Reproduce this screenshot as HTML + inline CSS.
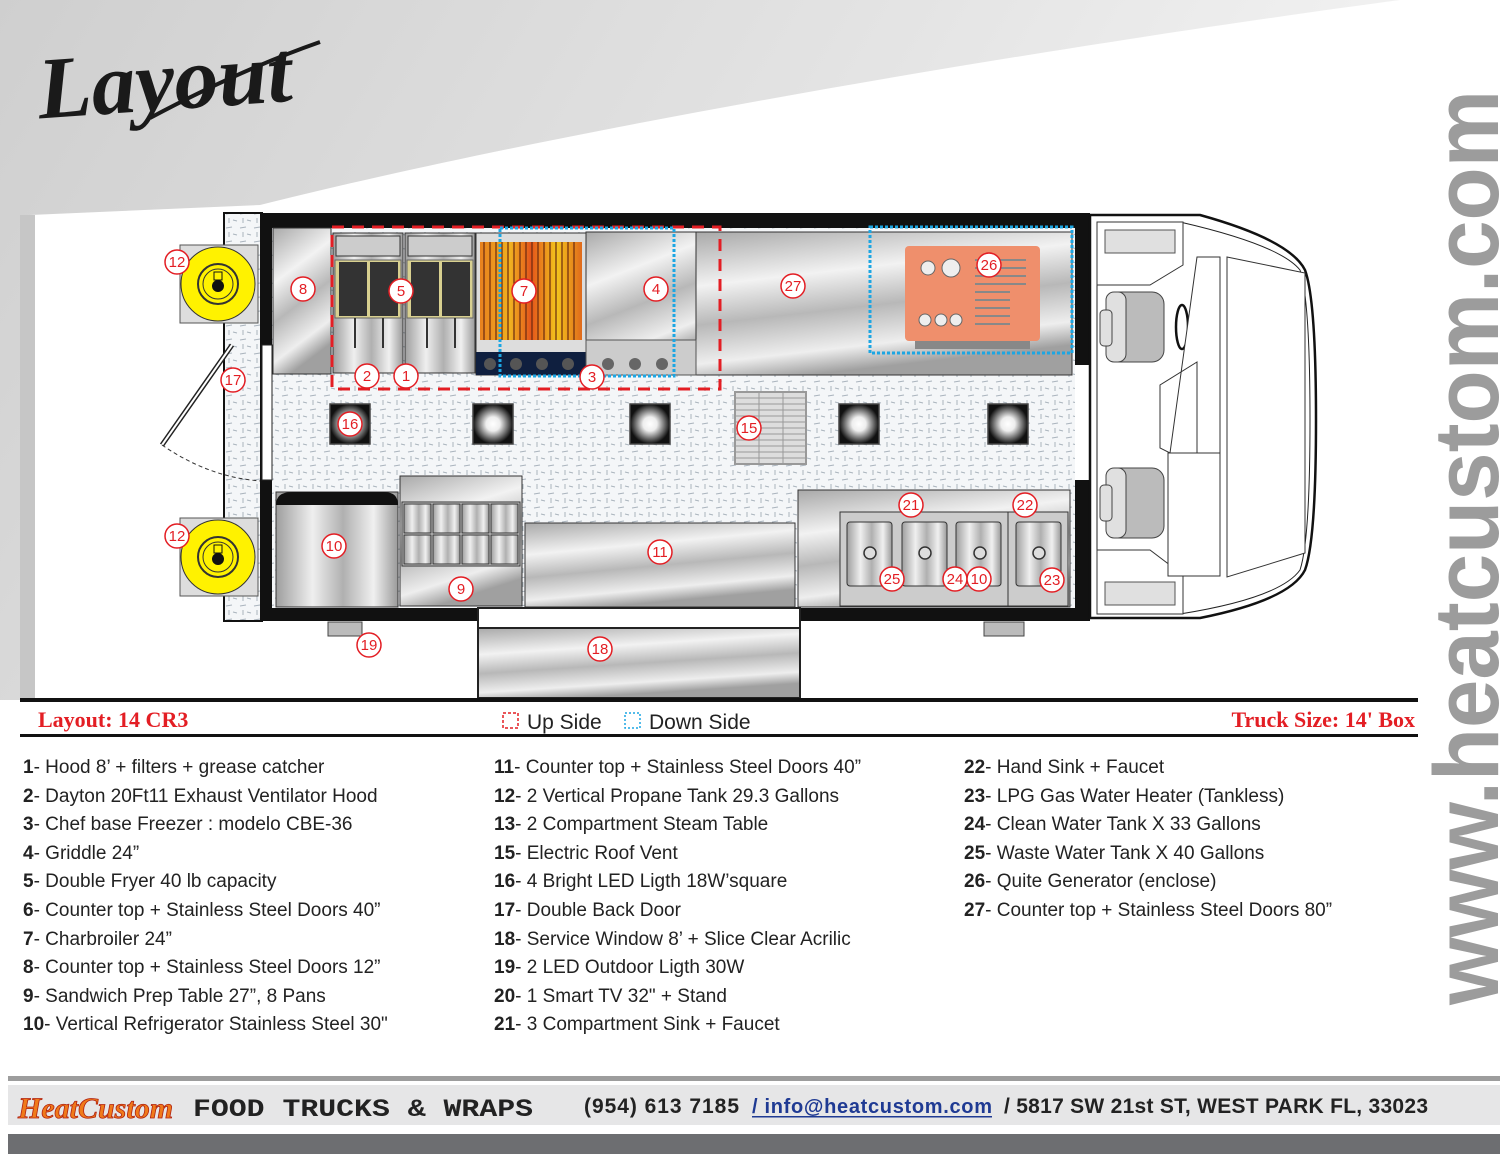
<!DOCTYPE html>
<html><head><meta charset="utf-8"><style>
html,body{margin:0;padding:0;background:#fff}
body{width:1500px;height:1154px;overflow:hidden;position:relative;font-family:"Liberation Sans",sans-serif}
.col{position:absolute;top:754px;font-size:19px;line-height:28.6px;color:#222}
.col b{font-weight:bold}
</style></head><body>
<svg width="1500" height="1154" viewBox="0 0 1500 1154" xmlns="http://www.w3.org/2000/svg" style="position:absolute;left:0;top:0">
<defs>
<linearGradient id="bg" x1="0" y1="0" x2="1" y2="0.3"><stop offset="0" stop-color="#cfcfcf"/><stop offset="0.6" stop-color="#e4e4e4"/><stop offset="1" stop-color="#f4f4f4"/></linearGradient>
<linearGradient id="st" x1="0" y1="0" x2="0.3" y2="1"><stop offset="0" stop-color="#a9a9a9"/><stop offset="0.35" stop-color="#f2f2f2"/><stop offset="0.6" stop-color="#b8b8b8"/><stop offset="0.85" stop-color="#eeeeee"/><stop offset="1" stop-color="#a0a0a0"/></linearGradient>
<linearGradient id="stv" x1="0" y1="0" x2="1" y2="0"><stop offset="0" stop-color="#9e9e9e"/><stop offset="0.3" stop-color="#efefef"/><stop offset="0.55" stop-color="#b0b0b0"/><stop offset="0.8" stop-color="#f0f0f0"/><stop offset="1" stop-color="#9a9a9a"/></linearGradient>
<linearGradient id="grill" x1="0" y1="0" x2="1" y2="0"><stop offset="0" stop-color="#e8811e"/><stop offset="0.3" stop-color="#f0b020"/><stop offset="0.5" stop-color="#e4541b"/><stop offset="0.75" stop-color="#f3c51c"/><stop offset="1" stop-color="#e06a1c"/></linearGradient>
<radialGradient id="led"><stop offset="0" stop-color="#fff"/><stop offset="0.35" stop-color="#eee"/><stop offset="1" stop-color="#111"/></radialGradient>
<pattern id="plate" width="14" height="14" patternUnits="userSpaceOnUse"><rect width="14" height="14" fill="#f4f6f8"/><path d="M2 4 L8 3 M9 10 L13 11 M5 8 L5 13" stroke="#aab4bd" stroke-width="1"/></pattern>
</defs>
<path d="M0 0 H1400 C1100 40 600 120 260 205 L 30 215 V700 H0 Z" fill="url(#bg)"/>
<path d="M20 215 L 35 215 V700 H20 Z" fill="#c6c6c6"/>
<text x="38" y="110" font-family="Liberation Serif,serif" font-style="italic" font-weight="bold" font-size="88" fill="#1a1a1a" transform="rotate(-4 160 90)">Layout</text>
<path d="M150 118 Q240 70 320 42" stroke="#1a1a1a" stroke-width="4" fill="none"/>
<text transform="translate(1498,1005) rotate(-90)" font-family="Liberation Sans,sans-serif" font-weight="bold" font-size="92" fill="#9c9c9c" textLength="915" lengthAdjust="spacingAndGlyphs">www.heatcustom.com</text>

<rect x="224" y="213" width="38" height="408" fill="url(#plate)" stroke="#111" stroke-width="2"/>
<g>
<rect x="180" y="245" width="78" height="78" fill="#ddd" stroke="#555"/>
<circle cx="218" cy="284" r="37" fill="#fff200" stroke="#333"/><circle cx="218" cy="284" r="20" fill="none" stroke="#333" stroke-width="2"/><circle cx="218" cy="284" r="15" fill="none" stroke="#333"/><circle cx="218" cy="286" r="6" fill="#111"/><rect x="214" y="272" width="8" height="8" fill="none" stroke="#111"/>
<rect x="180" y="518" width="78" height="78" fill="#ddd" stroke="#555"/>
<circle cx="218" cy="557" r="37" fill="#fff200" stroke="#333"/><circle cx="218" cy="557" r="20" fill="none" stroke="#333" stroke-width="2"/><circle cx="218" cy="557" r="15" fill="none" stroke="#333"/><circle cx="218" cy="559" r="6" fill="#111"/><rect x="214" y="545" width="8" height="8" fill="none" stroke="#111"/>
</g>
<line x1="232" y1="345" x2="162" y2="445" stroke="#222" stroke-width="5"/><line x1="232" y1="345" x2="162" y2="445" stroke="#fff" stroke-width="2"/>
<path d="M162 445 Q210 478 262 481" stroke="#333" stroke-dasharray="4 3" fill="none"/>

<rect x="260" y="213" width="830" height="408" fill="#111"/>
<rect x="272" y="228" width="803" height="380" fill="url(#plate)"/>
<rect x="262" y="345" width="10" height="135" fill="#fff" stroke="#222"/>
<rect x="273" y="228" width="58" height="146" fill="url(#st)" stroke="#333"/>
<rect x="696" y="232" width="376" height="143" fill="url(#st)" stroke="#333"/>
<g>
<rect x="333" y="233" width="70" height="140" fill="url(#stv)" stroke="#333"/><rect x="336" y="236" width="64" height="20" fill="#ccc" stroke="#333"/>
<rect x="335" y="260" width="66" height="58" fill="#d8d090" stroke="#666"/><rect x="339" y="262" width="28" height="54" fill="#333"/><rect x="370" y="262" width="28" height="54" fill="#333"/>
<rect x="405" y="233" width="70" height="140" fill="url(#stv)" stroke="#333"/><rect x="408" y="236" width="64" height="20" fill="#ccc" stroke="#333"/>
<rect x="407" y="260" width="66" height="58" fill="#d8d090" stroke="#666"/><rect x="411" y="262" width="28" height="54" fill="#333"/><rect x="442" y="262" width="28" height="54" fill="#333"/>
<path d="M355 318 V348 M383 318 V348 M427 318 V348 M455 318 V348" stroke="#333" stroke-width="2"/>
</g>
<rect x="476" y="233" width="110" height="142" fill="#ddd" stroke="#333"/>
<rect x="480" y="242" width="102" height="98" fill="url(#grill)"/>
<path d="M484 242V340M490 242V340M496 242V340M502 242V340M508 242V340M514 242V340M520 242V340M526 242V340M532 242V340M538 242V340M544 242V340M550 242V340M556 242V340M562 242V340M568 242V340M574 242V340" stroke="#6a2a10" stroke-width="1.2"/>
<rect x="476" y="352" width="110" height="23" fill="#0f1f3f"/>
<g fill="#555"><circle cx="490" cy="364" r="6"/><circle cx="516" cy="364" r="6"/><circle cx="542" cy="364" r="6"/><circle cx="568" cy="364" r="6"/></g>
<rect x="586" y="232" width="110" height="143" fill="url(#st)" stroke="#333"/>
<rect x="586" y="340" width="110" height="35" fill="#ccc" stroke="#555"/>
<g fill="#666"><circle cx="608" cy="364" r="6"/><circle cx="635" cy="364" r="6"/><circle cx="662" cy="364" r="6"/></g>
<rect x="905" y="246" width="135" height="95" rx="4" fill="#ef8f6c"/>
<rect x="915" y="341" width="115" height="8" fill="#888"/>
<g fill="#eee" stroke="#666"><circle cx="928" cy="268" r="7"/><circle cx="951" cy="268" r="9"/><circle cx="925" cy="320" r="6"/><circle cx="941" cy="320" r="6"/><circle cx="956" cy="320" r="6"/></g>
<path d="M975 260H1026M975 268H1026M975 276H1026M975 284H1026M975 292H1010M975 300H1010M975 308H1010M975 316H1010M975 324H1010" stroke="#888" stroke-width="2"/>
<rect x="332" y="227" width="388" height="162" fill="none" stroke="#e31e24" stroke-width="3" stroke-dasharray="12 8"/>
<rect x="500" y="228" width="174" height="148" fill="none" stroke="#1ca6e3" stroke-width="3" stroke-dasharray="3 2"/>
<rect x="870" y="227" width="202" height="126" fill="none" stroke="#1ca6e3" stroke-width="3" stroke-dasharray="3 2"/>
<g stroke="#444" stroke-width="1.5">
<rect x="330" y="404" width="40" height="40" fill="url(#led)"/><rect x="473" y="404" width="40" height="40" fill="url(#led)"/><rect x="630" y="404" width="40" height="40" fill="url(#led)"/><rect x="839" y="404" width="40" height="40" fill="url(#led)"/><rect x="988" y="404" width="40" height="40" fill="url(#led)"/>
</g>
<rect x="735" y="392" width="71" height="72" fill="#ddd" stroke="#999" stroke-width="2"/>
<path d="M735 398H806M735 404H806M735 410H806M735 416H806M735 422H806M735 428H806M735 434H806M735 440H806M735 446H806M735 452H806M735 458H806M759 392V464M783 392V464" stroke="#999"/>
<rect x="276" y="492" width="122" height="115" fill="url(#stv)" stroke="#333"/>
<path d="M276 505 Q276 492 292 492 H384 Q398 492 398 505 Z" fill="#111"/>
<rect x="400" y="476" width="122" height="130" fill="url(#st)" stroke="#333"/>
<rect x="402" y="502" width="118" height="64" fill="#ccc" stroke="#333"/>
<g fill="url(#stv)" stroke="#333"><rect x="404" y="504" width="27" height="29"/><rect x="433" y="504" width="27" height="29"/><rect x="462" y="504" width="27" height="29"/><rect x="491" y="504" width="27" height="29"/><rect x="404" y="535" width="27" height="29"/><rect x="433" y="535" width="27" height="29"/><rect x="462" y="535" width="27" height="29"/><rect x="491" y="535" width="27" height="29"/></g>
<rect x="525" y="523" width="270" height="84" fill="url(#st)" stroke="#333"/>
<rect x="798" y="490" width="272" height="117" fill="url(#st)" stroke="#333"/>
<rect x="840" y="512" width="168" height="94" fill="#ccc" stroke="#333"/>
<rect x="1008" y="512" width="60" height="94" fill="#ccc" stroke="#333"/>
<g fill="url(#stv)" stroke="#333"><rect x="847" y="522" width="45" height="64" rx="3"/><rect x="902" y="522" width="45" height="64" rx="3"/><rect x="956" y="522" width="45" height="64" rx="3"/><rect x="1016" y="522" width="45" height="64" rx="3"/></g>
<g fill="#ddd" stroke="#333" stroke-width="1.5"><circle cx="870" cy="553" r="6"/><circle cx="925" cy="553" r="6"/><circle cx="980" cy="553" r="6"/><circle cx="1039" cy="553" r="6"/></g>
<rect x="1075" y="365" width="14" height="115" fill="#fff"/>
<rect x="478" y="608" width="322" height="20" fill="#fff" stroke="#222" stroke-width="2"/>
<rect x="478" y="628" width="322" height="70" fill="url(#st)" stroke="#222" stroke-width="2"/>
<rect x="328" y="622" width="34" height="14" fill="#bbb" stroke="#444"/>
<rect x="984" y="622" width="40" height="14" fill="#bbb" stroke="#444"/>
<path d="M1090 215 H1200 Q1290 240 1305 270 Q1316 300 1316 420 Q1316 540 1305 570 Q1290 600 1200 618 H1090 Z" fill="#fff" stroke="#111" stroke-width="2.5"/>
<path d="M1097 222 H1180 Q1280 245 1300 270 Q1310 300 1310 420 Q1310 540 1300 570 Q1280 598 1180 614 H1097 Z" fill="none" stroke="#222"/>
<path d="M1097 222 H1183 V265 L1150 285 H1097 Z M1097 614 H1183 V575 L1150 550 H1097 Z" fill="#fff" stroke="#333"/>
<rect x="1105" y="230" width="70" height="23" fill="#e0e0e0" stroke="#555"/><rect x="1105" y="582" width="70" height="23" fill="#e0e0e0" stroke="#555"/>
<rect x="1106" y="292" width="58" height="70" rx="12" fill="#bbb" stroke="#444"/><rect x="1106" y="292" width="20" height="70" rx="8" fill="#e0e0e0" stroke="#444"/><rect x="1100" y="310" width="12" height="36" rx="4" fill="#e0e0e0" stroke="#444"/>
<rect x="1106" y="468" width="58" height="70" rx="12" fill="#bbb" stroke="#444"/><rect x="1106" y="468" width="20" height="70" rx="8" fill="#e0e0e0" stroke="#444"/><rect x="1100" y="485" width="12" height="36" rx="4" fill="#e0e0e0" stroke="#444"/>
<ellipse cx="1182" cy="327" rx="6" ry="22" fill="none" stroke="#111" stroke-width="2.5"/>
<path d="M1197 257 H1220 V453 H1197 V362 L1160 385 V448 L1170 453 Z" fill="#fff" stroke="#333"/>
<rect x="1168" y="453" width="52" height="123" fill="#fff" stroke="#333"/>
<path d="M1227 257 L1305 273 V553 L1227 577 Z" fill="#fff" stroke="#333"/>

<g font-family="Liberation Sans,sans-serif" font-size="15" fill="#e31e24" text-anchor="middle" stroke-width="1.5">
<g fill="#fff" stroke="#e31e24">
<circle cx="177" cy="262" r="12"/><circle cx="303" cy="289" r="12"/><circle cx="401" cy="291" r="12"/><circle cx="524" cy="291" r="12"/><circle cx="656" cy="289" r="12"/><circle cx="793" cy="286" r="12"/><circle cx="989" cy="265" r="12"/>
<circle cx="367" cy="376" r="12"/><circle cx="406" cy="376" r="12"/><circle cx="592" cy="377" r="12"/><circle cx="233" cy="380" r="12"/><circle cx="350" cy="424" r="12"/><circle cx="749" cy="428" r="12"/>
<circle cx="177" cy="536" r="12"/><circle cx="334" cy="546" r="12"/><circle cx="461" cy="589" r="12"/><circle cx="660" cy="552" r="12"/><circle cx="911" cy="505" r="12"/><circle cx="1025" cy="505" r="12"/>
<circle cx="892" cy="579" r="12"/><circle cx="955" cy="579" r="12"/><circle cx="979" cy="579" r="12"/><circle cx="1052" cy="580" r="12"/><circle cx="369" cy="645" r="12"/><circle cx="600" cy="649" r="12"/>
</g>
<g stroke="none">
<text x="177" y="267">12</text><text x="303" y="294">8</text><text x="401" y="296">5</text><text x="524" y="296">7</text><text x="656" y="294">4</text><text x="793" y="291">27</text><text x="989" y="270">26</text>
<text x="367" y="381">2</text><text x="406" y="381">1</text><text x="592" y="382">3</text><text x="233" y="385">17</text><text x="350" y="429">16</text><text x="749" y="433">15</text>
<text x="177" y="541">12</text><text x="334" y="551">10</text><text x="461" y="594">9</text><text x="660" y="557">11</text><text x="911" y="510">21</text><text x="1025" y="510">22</text>
<text x="892" y="584">25</text><text x="955" y="584">24</text><text x="979" y="584">10</text><text x="1052" y="585">23</text><text x="369" y="650">19</text><text x="600" y="654">18</text>
</g></g>

<rect x="20" y="698" width="1398" height="4" fill="#111"/>
<rect x="20" y="734" width="1398" height="3" fill="#111"/>
<text x="38" y="727" font-family="Liberation Serif,serif" font-weight="bold" font-size="22" fill="#e31e24">Layout: 14 CR3</text>
<rect x="503" y="713" width="15" height="15" fill="none" stroke="#e31e24" stroke-width="1.5" stroke-dasharray="3 2"/>
<text x="527" y="729" font-size="21" fill="#222" font-family="Liberation Sans,sans-serif">Up Side</text>
<rect x="625" y="713" width="15" height="15" fill="none" stroke="#1ca6e3" stroke-width="1.5" stroke-dasharray="2 2"/>
<text x="649" y="729" font-size="21" fill="#222" font-family="Liberation Sans,sans-serif">Down Side</text>
<text x="1415" y="727" text-anchor="end" font-family="Liberation Serif,serif" font-weight="bold" font-size="22" fill="#e31e24">Truck Size: 14' Box</text>

<rect x="8" y="1076" width="1492" height="5" fill="#9d9d9d"/>
<rect x="8" y="1085" width="1492" height="40" fill="#e6e6e7"/>
<rect x="8" y="1134" width="1492" height="20" fill="#6d6e71"/>
<text x="18" y="1118" font-family="Liberation Serif,serif" font-style="italic" font-weight="bold" font-size="30" fill="#f07a1a" stroke="#b02010" stroke-width="0.8">HeatCustom</text>
<text x="193" y="1116" font-family="Liberation Mono,monospace" font-weight="bold" font-size="25" fill="#222" textLength="340" lengthAdjust="spacingAndGlyphs">FOOD TRUCKS &amp; WRAPS</text>
<text x="584" y="1113" font-family="Liberation Sans,sans-serif" font-weight="bold" font-size="21" fill="#222" textLength="155">(954) 613 7185</text>
<text x="752" y="1113" font-family="Liberation Sans,sans-serif" font-weight="bold" font-size="20" fill="#1f3a93" textLength="240">/  info@heatcustom.com</text>
<rect x="752" y="1116" width="240" height="1.5" fill="#1f3a93"/>
<text x="1004" y="1113" font-family="Liberation Sans,sans-serif" font-weight="bold" font-size="21" fill="#222" textLength="424">/  5817 SW 21st ST, WEST PARK FL, 33023</text>
</svg>

<div class="col" style="left:23px">
<div><b>1</b>- Hood 8’ + filters + grease catcher</div>
<div><b>2</b>- Dayton 20Ft11 Exhaust Ventilator Hood</div>
<div><b>3</b>- Chef base Freezer : modelo CBE-36</div>
<div><b>4</b>- Griddle 24”</div>
<div><b>5</b>- Double Fryer 40 lb capacity</div>
<div><b>6</b>- Counter top + Stainless Steel Doors 40”</div>
<div><b>7</b>- Charbroiler 24”</div>
<div><b>8</b>- Counter top + Stainless Steel Doors 12”</div>
<div><b>9</b>- Sandwich Prep Table 27”, 8 Pans</div>
<div><b>10</b>- Vertical Refrigerator Stainless Steel 30"</div>
</div>
<div class="col" style="left:494px">
<div><b>11</b>- Counter top + Stainless Steel Doors 40”</div>
<div><b>12</b>- 2 Vertical Propane Tank 29.3 Gallons</div>
<div><b>13</b>- 2 Compartment Steam Table</div>
<div><b>15</b>- Electric Roof Vent</div>
<div><b>16</b>- 4 Bright LED Ligth 18W’square</div>
<div><b>17</b>- Double Back Door</div>
<div><b>18</b>- Service Window 8’ + Slice Clear Acrilic</div>
<div><b>19</b>- 2 LED Outdoor Ligth 30W</div>
<div><b>20</b>- 1 Smart TV 32" + Stand</div>
<div><b>21</b>- 3 Compartment Sink + Faucet</div>
</div>
<div class="col" style="left:964px">
<div><b>22</b>- Hand Sink + Faucet</div>
<div><b>23</b>- LPG Gas Water Heater (Tankless)</div>
<div><b>24</b>- Clean Water Tank X 33 Gallons</div>
<div><b>25</b>- Waste Water Tank X 40 Gallons</div>
<div><b>26</b>- Quite Generator (enclose)</div>
<div><b>27</b>- Counter top + Stainless Steel Doors 80”</div>
</div>
</body></html>
